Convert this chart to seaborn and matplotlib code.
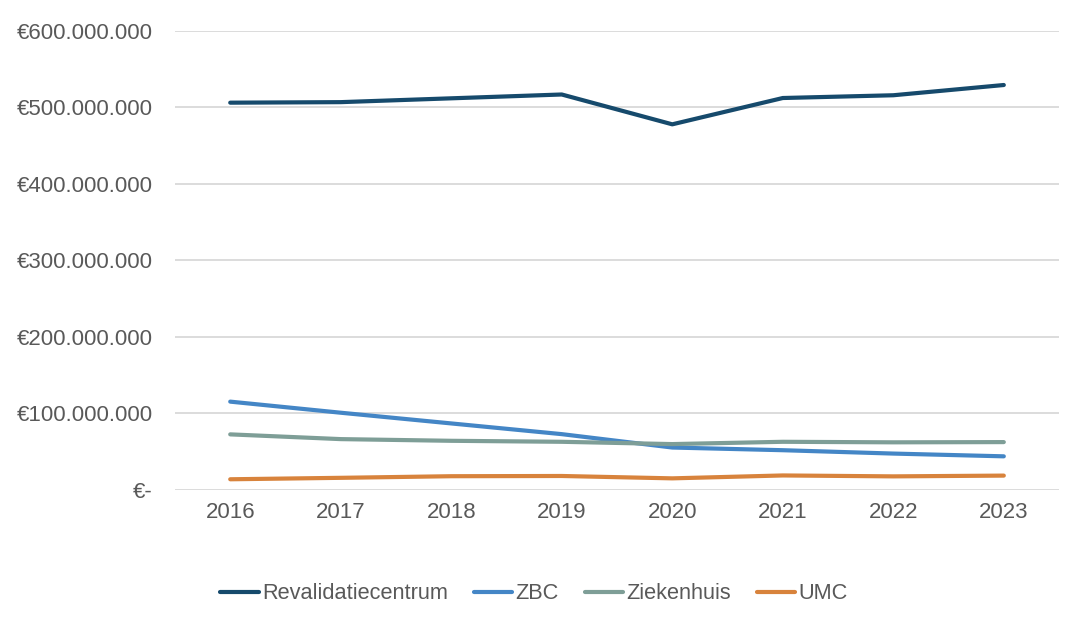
import matplotlib
matplotlib.use("Agg")
import matplotlib.pyplot as plt
import seaborn as sns
import pandas as pd
from matplotlib.ticker import FuncFormatter

years = ["2016", "2017", "2018", "2019", "2020", "2021", "2022", "2023"]
revalidatiecentrum = [506.3e6, 507.0e6, 512.0e6, 517.0e6, 478.0e6, 512.4e6, 516.0e6, 529.4e6]
zbc = [115.5e6, 101.0e6, 87.0e6, 73.0e6, 55.5e6, 52.0e6, 47.6e6, 44.0e6]
ziekenhuis = [72.7e6, 66.5e6, 64.3e6, 63.0e6, 60.0e6, 63.0e6, 62.3e6, 62.6e6]
umc = [14.0e6, 15.9e6, 18.0e6, 18.3e6, 15.2e6, 19.0e6, 17.8e6, 18.8e6]
series_names = ["Revalidatiecentrum", "ZBC", "Ziekenhuis", "UMC"]
colors = ["#164A6C", "#4486C6", "#7E9E97", "#D8833C"]

df = pd.DataFrame({
    "Jaar": years * 4,
    "Waarde": revalidatiecentrum + zbc + ziekenhuis + umc,
    "Type": sum([[n] * len(years) for n in series_names], []),
})

sns.set_style("white")
plt.rcParams["font.family"] = ["Liberation Sans", "DejaVu Sans"]

fig = plt.figure(figsize=(10.84, 6.2), dpi=100)
ax = fig.add_axes([0.1614, 0.2097, 0.8156, 0.7403])

sns.lineplot(data=df, x="Jaar", y="Waarde", hue="Type", palette=colors,
             hue_order=series_names, linewidth=3.0, ax=ax, sort=False)

ax.set_xlim(-0.5, len(years) - 0.5)
ax.set_ylim(0, 600e6)
ax.set_yticks([i * 100e6 for i in range(7)])

def fmt(v, pos):
    if v == 0:
        return "€-"
    return "€" + f"{int(round(v)):,}".replace(",", ".")

ax.yaxis.set_major_formatter(FuncFormatter(fmt))
ax.grid(axis="y", color="#D9D9D9", linewidth=1.3)
ax.grid(axis="x", visible=False)
for s in ax.spines.values():
    s.set_visible(False)
ax.tick_params(axis="y", length=0, pad=16, labelsize=16, labelcolor="#595959")
ax.tick_params(axis="x", length=0, pad=9, labelsize=16, labelcolor="#595959")
ax.set_xlabel("")
ax.set_ylabel("")

handles, labels = ax.get_legend_handles_labels()
ax.legend_.remove()
leg = fig.legend(handles, labels, loc="center", bbox_to_anchor=(0.4926, 0.042), ncol=4,
                 frameon=False, fontsize=15.7, handlelength=1.75, handletextpad=0.15,
                 columnspacing=1.2, labelcolor="#595959")

fig.savefig("out.png", dpi=100)
